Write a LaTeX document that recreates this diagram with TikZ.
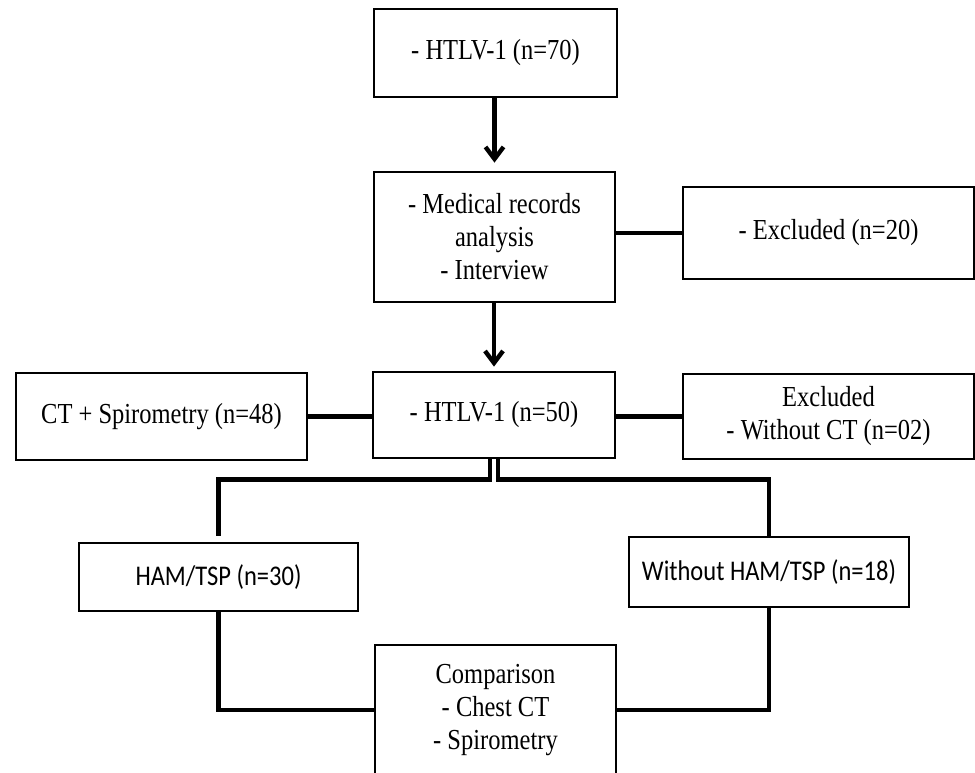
\documentclass[tikz,border=0pt]{standalone}
\usepackage{fontspec}
\setmainfont[FakeStretch=0.845]{Liberation Serif}
\newfontfamily\calfont[FakeStretch=0.86]{Carlito}
\usetikzlibrary{arrows.meta}
\begin{document}
\begin{tikzpicture}[x=0.5pt,y=-0.5pt,
  box/.style={draw,line width=1.4pt,align=center,inner sep=2pt,
    font=\fontsize{14.5}{16.5}\selectfont},
  sbox/.style={box,font=\calfont\fontsize{14.25}{16.5}\selectfont},
  conn/.style={line width=2.2pt},
  arr/.style={conn,-{Straight Barb[length=6pt,width=9pt]}}]
\clip (0,0) rectangle (975,772);
\fill[white] (0,0) rectangle (975,772);
\node[box,minimum width=121.5pt,minimum height=44pt] (top) at (495.5,53) {- HTLV-1 (n=70)};
\node[box,minimum width=120.5pt,minimum height=65pt] (med) at (494.5,237) {- Medical records\\analysis\\- Interview};
\node[box,minimum width=145.5pt,minimum height=46pt] (excla) at (828.5,233) {- Excluded (n=20)};
\node[box,minimum width=121pt,minimum height=43pt] (htlv) at (494,415) {- HTLV-1 (n=50)};
\node[box,minimum width=145.5pt,minimum height=43.5pt] (ct) at (161.5,416.5) {CT + Spirometry (n=48)};
\node[box,minimum width=145.5pt,minimum height=42.5pt] (exclb) at (828.5,416.5) {Excluded\\- Without CT (n=02)};
\node[sbox,minimum width=139.5pt,minimum height=34pt] (ham) at (218.5,577) {HAM/TSP (n=30)};
\node[sbox,minimum width=140pt,minimum height=35pt] (without) at (769,572) {Without HAM/TSP (n=18)};
\node[box,minimum width=120.5pt,minimum height=65pt] (comp) at (495.5,710) {Comparison\\- Chest CT\\- Spirometry};

\draw[arr,shorten >=4pt] (med.north |- top.south) -- (med.north);
\draw[arr,shorten >=2pt] (htlv.north |- med.south) -- (htlv.north);
\draw[conn] (med.east |- excla.west) -- (excla.west);
\draw[conn] (ct.east) -- (ct.east -| htlv.west);
\draw[conn] (htlv.east |- exclb.west) -- (exclb.west);
\draw[conn,shorten >=3pt] ([xshift=-2pt]htlv.south) -- ++(0,20) -| (ham.north);
\draw[conn] ([xshift=2pt]htlv.south) -- ++(0,20) -| (without.north);
\draw[conn] (ham.south) |- (comp.west);
\draw[conn] (without.south) |- (comp.east);
\end{tikzpicture}
\end{document}
